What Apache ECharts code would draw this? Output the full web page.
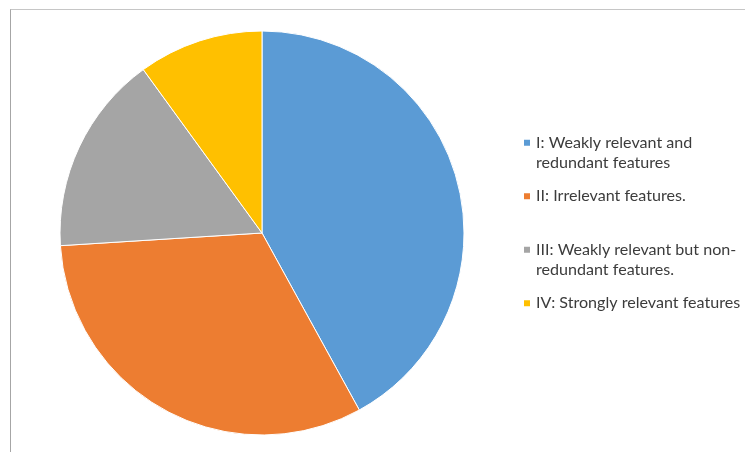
<!DOCTYPE html>
<html>
<head>
<meta charset="utf-8">
<script src="https://cdn.jsdelivr.net/npm/echarts@6/dist/echarts.min.js"></script>
<style>
  html, body { margin: 0; padding: 0; background: #ffffff; }
  #frame {
    position: absolute; left: 10px; top: 9px; right: -2px; bottom: -2px;
    border-top: 1px solid #c6c6c6; border-left: 1px solid #a6a6a6;
  }
  #chart { position: absolute; left: 0; top: 0; width: 745px; height: 452px; }
</style>
</head>
<body>
<div id="frame"></div>
<div id="chart"></div>
<script>
// Feature categories (line breaks follow the legend wrapping)
const categories = [
  'I: Weakly relevant and\nredundant features',
  'II: Irrelevant features.',
  'III: Weakly relevant but non-\nredundant features.',
  'IV: Strongly relevant features'
];
// Share of each category, percent
const shares = [42, 32, 16, 10];
const colors = ['#5B9BD5', '#ED7D31', '#A5A5A5', '#FFC000'];
// Vertical position of each legend entry
const legendTops = [112, 186, 219, 293];

const LINE_H = 20.5;
const FONT_SIZE = 16.1;

const textRich = {
  t: { fontFamily: 'Lato', fontSize: FONT_SIZE, color: '#3c3c3c', lineHeight: LINE_H },
  s: { fontFamily: 'Lato', fontSize: FONT_SIZE, lineHeight: LINE_H }
};

// Two-line entries get an empty spacer line on top so the marker
// sits level with the first text line.
function legendText(name) {
  const lines = name.split('\n');
  const body = lines.map(l => '{t|' + l + '}').join('\n');
  return lines.length > 1 ? '{s| }\n' + body : body;
}

const legends = categories.map((name, i) => ({
  orient: 'vertical',
  left: 522,
  top: legendTops[i],
  padding: 0,
  itemWidth: 8,
  itemHeight: 8,
  itemGap: 0,
  icon: 'rect',
  selectedMode: false,
  data: [name],
  formatter: legendText,
  textStyle: {
    fontFamily: 'Lato',
    fontSize: FONT_SIZE,
    color: '#3c3c3c',
    lineHeight: LINE_H,
    rich: textRich
  }
}));

const chart = echarts.init(document.getElementById('chart'), null, { renderer: 'canvas' });
chart.setOption({
  animation: false,
  color: colors,
  legend: legends,
  series: [{
    type: 'pie',
    center: [262, 233],
    radius: 202,
    startAngle: 90,
    clockwise: true,
    label: { show: false },
    labelLine: { show: false },
    emphasis: { disabled: true },
    itemStyle: { borderColor: '#ffffff', borderWidth: 1 },
    data: categories.map((name, i) => ({ name: name, value: shares[i] }))
  }]
});
</script>
</body>
</html>
